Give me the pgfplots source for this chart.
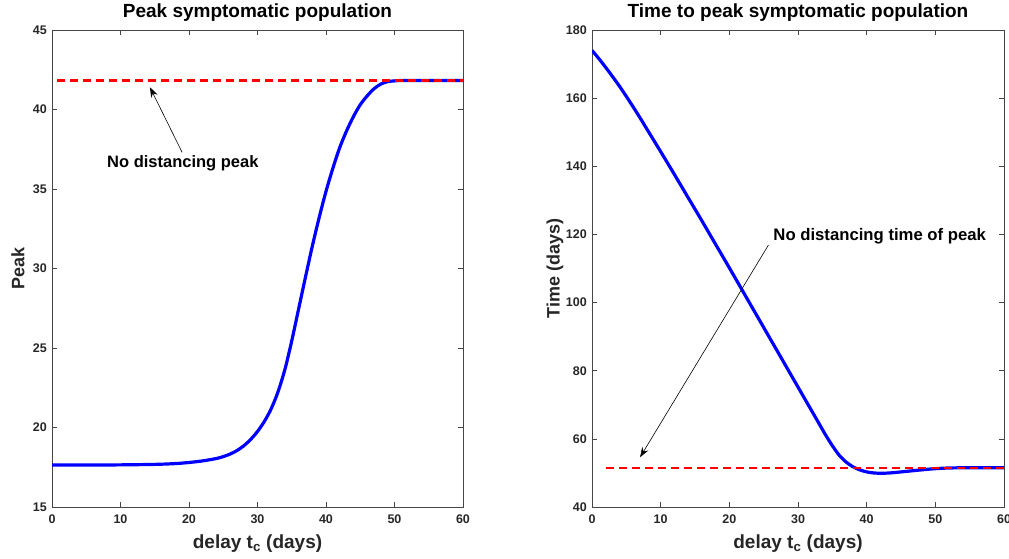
\documentclass[border=0pt]{standalone}
\usepackage{fontspec}
\setmainfont{Liberation Sans}
\usepackage{pgfplots}
\pgfplotsset{compat=1.18}
\usetikzlibrary{arrows.meta}
\definecolor{axgray}{RGB}{70,70,70}
\definecolor{txtgray}{RGB}{38,38,38}
\definecolor{mblue}{RGB}{0,0,255}
\definecolor{mred}{RGB}{255,0,0}
\pgfplotsset{mstyle/.style={
  scale only axis, height=477bp,
  xmin=0, xmax=60, xtick={0,10,...,60},
  axis line style={draw=axgray, line width=0.9bp},
  tick style={draw=axgray, line width=0.7bp},
  tick align=inside, major tick length=5bp,
  /pgf/number format/assume math mode=true,
  ticklabel style={font=\fontsize{12.5bp}{14bp}\selectfont\bfseries, text=txtgray, inner sep=0pt},
  xticklabel style={anchor=north, yshift=-8bp},
  yticklabel style={anchor=east, xshift=-5bp},
  title style={font=\fontsize{19bp}{21bp}\selectfont\bfseries, anchor=base, at={(axis description cs:0.5,1)}, yshift=7bp, inner sep=0pt},
  xlabel style={font=\fontsize{19bp}{21bp}\selectfont\bfseries, text=txtgray, anchor=base, at={(axis description cs:0.5,0)}, yshift=-41bp, inner sep=0pt},
  ylabel style={font=\fontsize{18bp}{20bp}\selectfont\bfseries, text=txtgray, anchor=center, inner sep=0pt},
  clip=true,
}}
\begin{document}
\begin{tikzpicture}
\useasboundingbox (0,0) rectangle (1009bp,559bp);
\begin{axis}[mstyle, at={(52bp,52bp)}, anchor=south west, width=411bp,
  ymin=15, ymax=45, ytick={15,20,...,45},
  title={Peak symptomatic population},
  xlabel={delay t\textsubscript{c} (days)},
  ylabel={Peak},
  ylabel style={at={(axis description cs:-0.0827,0.5)}},
]
\addplot[mblue, line width=3.2bp, smooth] coordinates {
(0,17.64) (5,17.64) (10,17.65) (15,17.68) (18,17.73) (20,17.8) (22,17.9) (24,18.05) (25,18.17) (26,18.33)
(27,18.55) (28,18.85) (29,19.25) (30,19.75) (31,20.38) (32,21.18) (33,22.25) (34,23.65) (35,25.45)
(36,27.45) (37,29.45) (38,31.4) (39,33.2) (40,34.85) (41,36.3) (42,37.6) (43,38.65) (44,39.55)
(45,40.3) (46,40.85) (47,41.3) (48,41.6) (49,41.75) (50,41.8) (51,41.82) (55,41.82) (60,41.82)};
\addplot[mred, line width=2.3bp, dash pattern=on 8bp off 5bp, dash phase=-5bp] coordinates {(0,41.82) (60,41.82)};
\draw[black, line width=0.6bp, -{Stealth[length=10bp,width=7bp]}] (axis cs:19.0,37.3) -- (axis cs:14.3,41.4);
\node[font=\fontsize{16.5bp}{18bp}\selectfont\bfseries, anchor=center] at (axis cs:19.1,36.6) {No distancing peak};
\end{axis}
\begin{axis}[mstyle, at={(592bp,52bp)}, anchor=south west, width=412bp,
  ymin=40, ymax=180, ytick={40,60,...,180},
  title={Time to peak symptomatic population},
  xlabel={delay t\textsubscript{c} (days)},
  ylabel={Time (days)},
  ylabel style={at={(axis description cs:-0.0898,0.5)}},
]
\addplot[mblue, line width=3.2bp, smooth] coordinates {
(0,174.0) (1,171.6) (2,169.0) (3,166.3) (4,163.5) (5,160.5) (6,157.4) (7,154.2) (8,150.9) (9,147.6)
(10,144.3) (12,137.6) (14,130.8) (16,124.0) (18,117.1) (20,110.2) (22,103.2) (24,96.2) (26,89.2)
(28,82.2) (30,75.2) (31,71.7) (32,68.2) (33,64.7) (34,61.2) (35,58.0) (36,55.2) (37,53.2) (38,51.8)
(39,50.9) (40,50.3) (41,50.0) (42,49.9) (43,49.95) (44,50.1) (46,50.5) (48,50.9) (50,51.25)
(52,51.45) (54,51.5) (60,51.5)};
\addplot[mred, line width=2.3bp, dash pattern=on 8bp off 5bp] coordinates {(2,51.5) (60,51.5)};
\draw[black, line width=0.6bp, -{Stealth[length=10bp,width=7bp]}] (axis cs:25.7,116.9) -- (axis cs:7.0,54.6);
\node[font=\fontsize{16.7bp}{18bp}\selectfont\bfseries, anchor=center] at (axis cs:41.9,119.6) {No distancing time of peak};
\end{axis}
\end{tikzpicture}
\end{document}
